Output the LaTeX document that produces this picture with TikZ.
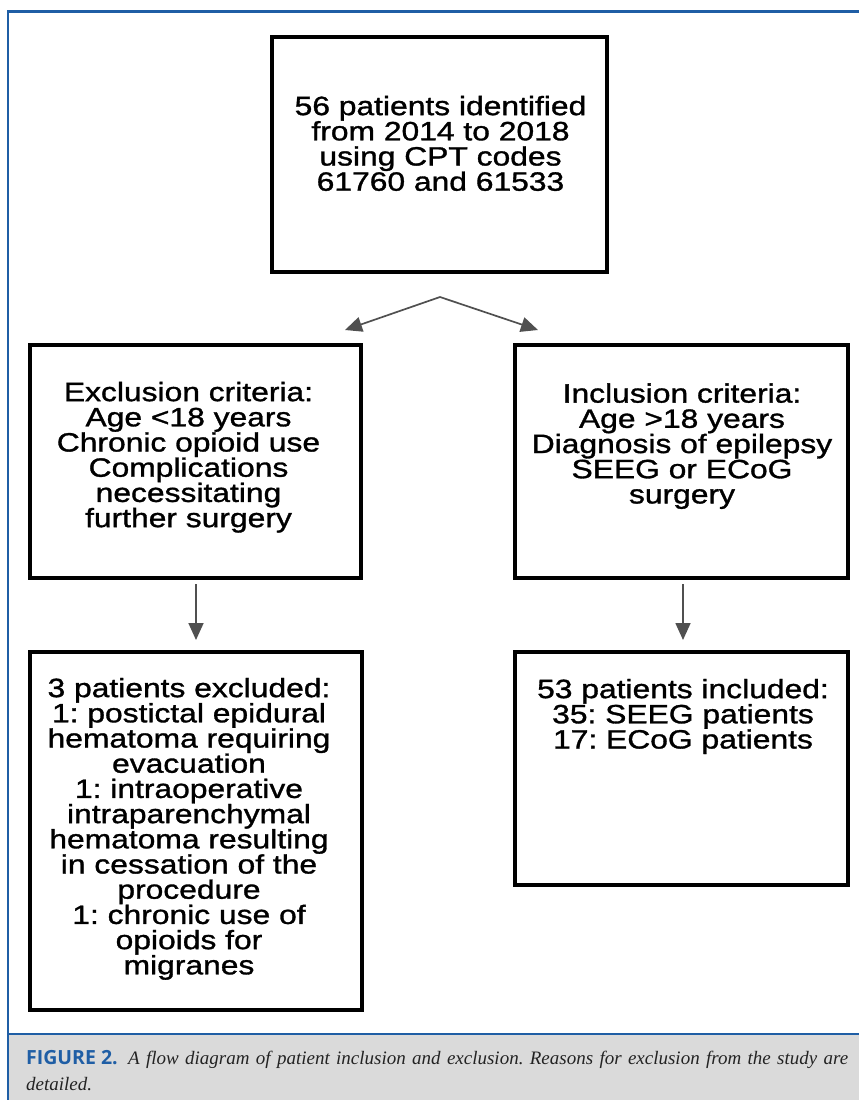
\documentclass[tikz,border=0pt]{standalone}
\usepackage{fontspec}
\newfontfamily\boxfont[FakeStretch=1.2,FakeBold=1.2]{Liberation Sans}
\newfontfamily\capsans{Open Sans}
\newfontfamily\capserif{Liberation Serif}
\usetikzlibrary{arrows.meta}
\definecolor{framebl}{RGB}{31,94,165}
\definecolor{capgray}{RGB}{218,218,218}
\definecolor{arrgray}{RGB}{80,80,80}
\definecolor{captext}{RGB}{35,35,35}
\frenchspacing
\newcommand\boxtextfont{\boxfont\fontsize{26.5}{25.2}\selectfont\lineskiplimit -100pt\relax}
\begin{document}
\begin{tikzpicture}[x=1pt,y=-1pt,
  boxrect/.style={draw=black,line width=3.2pt,inner sep=0pt},
  boxtext/.style={inner sep=0pt,align=center,anchor=north,font=\boxtextfont},
  flowarrow/.style={draw=arrgray,line width=1.7pt,-{Triangle[length=17pt,width=15pt]}},
  splitarrow/.style={draw=arrgray,line width=1.7pt,{Triangle[length=17pt,width=15pt]}-{Triangle[length=17pt,width=15pt]}},
  captionfont/.style={inner sep=0pt,text=captext,font=\capserif\itshape\fontsize{19}{22}\selectfont}]
\useasboundingbox (0,0) rectangle (859,1100);
% frame and caption band
\fill[capgray] (8,1034) rectangle (859,1100);
\draw[framebl,line width=2.6pt] (859,11.5) -- (8,11.5) -- (8,1100);
\draw[framebl,line width=2.4pt] (8,1034) -- (859,1034);
% boxes
\node[boxrect,minimum width=335pt,minimum height=235pt] (topbox) at (439.5,154.5) {};
\node[boxrect,minimum width=331pt,minimum height=233pt] (exclbox) at (195.5,461.5) {};
\node[boxrect,minimum width=333pt,minimum height=233pt] (inclbox) at (681.5,461.5) {};
\node[boxrect,minimum width=332pt,minimum height=358pt] (exclres) at (196,831) {};
\node[boxrect,minimum width=333pt,minimum height=233pt] (inclres) at (681.5,768.5) {};
% texts
\node[boxtext] (toptext) at (440.5,95.7) {56 patients identified\\from 2014 to 2018\\using CPT codes\\61760 and 61533};
\node[boxtext] (excltext) at (188.5,381.7) {Exclusion criteria:\\Age <18 years\\Chronic opioid use\\Complications\\necessitating\\further surgery};
\node[boxtext] (incltext) at (682,383.2) {Inclusion criteria:\\Age >18 years\\Diagnosis of epilepsy\\SEEG or ECoG\\surgery};
\node[boxtext] (exclrestext) at (189,677.7) {3 patients excluded:\\1: postictal epidural\\hematoma requiring\\evacuation\\1: intraoperative\\intraparenchymal\\hematoma resulting\\in cessation of the\\procedure\\1: chronic use of\\opioids for\\migranes};
\node[boxtext] (inclrestext) at (683,678.7) {53 patients included:\\35: SEEG patients\\17: ECoG patients};
% connectors
\coordinate (split) at (440,297);
\coordinate (splitL) at (345,330);
\coordinate (splitR) at (538,330);
\draw[splitarrow] (splitL) -- (split) -- (splitR);
\coordinate (downLa) at (196,584);
\coordinate (downLb) at (196,640);
\coordinate (downRa) at (683,584);
\coordinate (downRb) at (683,640);
\draw[flowarrow] (downLa) -- (downLb);
\draw[flowarrow] (downRa) -- (downRb);
% caption
\node[anchor=base west,inner sep=0pt,text=framebl,font=\capsans\bfseries\fontsize{19.5}{22}\selectfont] (figlabel) at (26,1064) {FIGURE 2.};
\node[anchor=base west,captionfont] (capline1) at (128,1064) {\makebox[720pt][s]{A flow diagram of patient inclusion and exclusion. Reasons for exclusion from the study are}};
\node[anchor=base west,captionfont] (capline2) at (26,1090) {detailed.};
\end{tikzpicture}
\end{document}
